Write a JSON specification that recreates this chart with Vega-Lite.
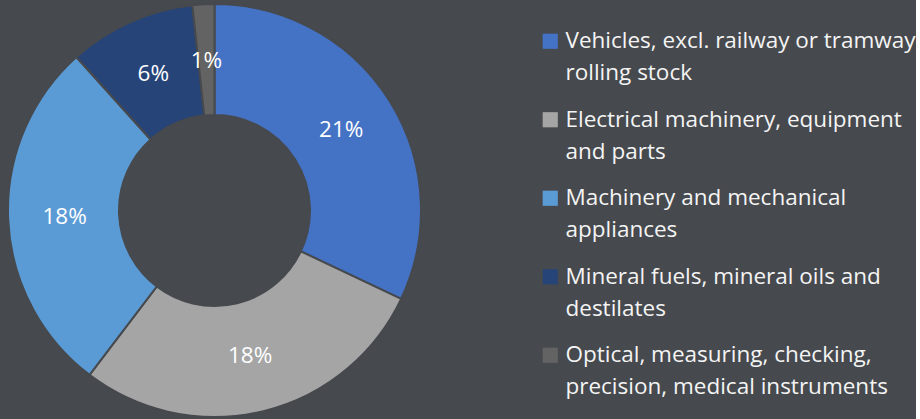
{
  "$schema": "https://vega.github.io/schema/vega-lite/v6.json",
  "width": 429,
  "height": 421,
  "padding": 0,
  "autosize": {"type": "pad"},
  "background": "#46494d",
  "view": {"stroke": null},
  "config": {
    "style": {"guide-label": {"lineHeight": 32}}
  },
  "data": {
    "values": [
      {"category": "Vehicles, excl. railway or tramway rolling stock", "share": 0.206, "order": 1},
      {"category": "Electrical machinery, equipment and parts", "share": 0.182, "order": 2},
      {"category": "Machinery and mechanical appliances", "share": 0.180, "order": 3},
      {"category": "Mineral fuels, mineral oils and destilates", "share": 0.064, "order": 4},
      {"category": "Optical, measuring, checking, precision, medical instruments", "share": 0.011, "order": 5}
    ]
  },
  "encoding": {
    "theta": {"field": "share", "type": "quantitative", "stack": true},
    "order": {"field": "order", "type": "quantitative"}
  },
  "layer": [
    {
      "mark": {"type": "arc", "outerRadius": 206.5, "innerRadius": 95.5, "stroke": "#46494d", "strokeWidth": 2},
      "encoding": {
        "color": {
          "field": "category",
          "type": "nominal",
          "scale": {
            "domain": [
              "Vehicles, excl. railway or tramway rolling stock",
              "Electrical machinery, equipment and parts",
              "Machinery and mechanical appliances",
              "Mineral fuels, mineral oils and destilates",
              "Optical, measuring, checking, precision, medical instruments"
            ],
            "range": ["#4472C4", "#A5A5A5", "#5B9BD5", "#264478", "#636363"]
          },
          "legend": {
            "orient": "none",
            "legendX": 539,
            "legendY": 30,
            "padding": 0,
            "title": null,
            "symbolType": "square",
            "symbolSize": 230,
            "symbolStrokeWidth": 0,
            "symbolOpacity": 1,
            "labelFont": "Open Sans",
            "labelFontSize": 22.5,
            "labelColor": "#f4f4f4",
            "labelLimit": 0,
            "labelOffset": 4,
            "labelBaseline": "middle",
            "rowPadding": 23.5,
            "labelExpr": "datum.label == 'Vehicles, excl. railway or tramway rolling stock' ? ['Vehicles, excl. railway or tramway', 'rolling stock'] : datum.label == 'Electrical machinery, equipment and parts' ? ['Electrical machinery, equipment', 'and parts'] : datum.label == 'Machinery and mechanical appliances' ? ['Machinery and mechanical', 'appliances'] : datum.label == 'Mineral fuels, mineral oils and destilates' ? ['Mineral fuels, mineral oils and', 'destilates'] : ['Optical, measuring, checking,', 'precision, medical instruments']"
          }
        }
      }
    },
    {
      "mark": {"type": "text", "radius": 150, "font": "Open Sans", "fontSize": 22.5, "color": "#ffffff"},
      "encoding": {
        "text": {"field": "share", "type": "quantitative", "format": ".0%"}
      }
    }
  ]
}
